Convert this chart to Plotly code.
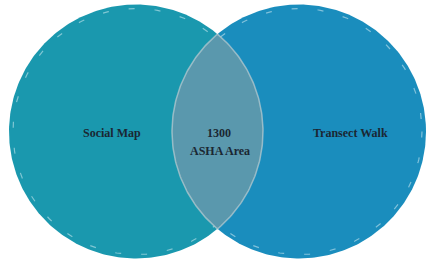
import numpy as np
import plotly.graph_objects as go

# Data
set_labels = ["Social Map", "Transect Walk"]
overlap_label = ["1300", "ASHA Area"]
set_colors = ["#1a98ae", "#1a8dbd"]
overlap_color = "#5a98ad"

# Layout constants (pixel space)
W, H = 426, 260
centers = [(136, 131.5), (299, 131.5)]
R = 127

fig = go.Figure()

t = np.linspace(0, 2 * np.pi, 361)
for (cx, cy), col in zip(centers, set_colors):
    fig.add_trace(go.Scatter(x=cx + R * np.cos(t), y=cy + R * np.sin(t), mode="lines",
                             fill="toself", fillcolor=col, line=dict(color=col, width=0),
                             hoverinfo="skip", showlegend=False))
for (cx, cy) in centers:
    r2 = R - 4
    fig.add_trace(go.Scatter(x=cx + r2 * np.cos(t), y=cy + r2 * np.sin(t), mode="lines",
                             line=dict(color="rgba(230,245,250,0.5)", width=1.2, dash="6px,20px"),
                             hoverinfo="skip", showlegend=False))

# Lens (intersection)
(c1x, c1y), (c2x, c2y) = centers
d = c2x - c1x
h = np.sqrt(R**2 - (d / 2) ** 2)
a = np.arctan2(h, d / 2)
ang1 = np.linspace(-a, a, 100)
ang2 = np.linspace(np.pi - a, np.pi + a, 100)
lx = np.concatenate([c1x + R * np.cos(ang1), c2x + R * np.cos(ang2)])
ly = np.concatenate([c1y + R * np.sin(ang1), c2y + R * np.sin(ang2)])
fig.add_trace(go.Scatter(x=lx, y=ly, mode="lines", fill="toself", fillcolor=overlap_color,
                         line=dict(color="rgba(190,205,210,0.7)", width=1.5),
                         hoverinfo="skip", showlegend=False))

font = dict(family="Liberation Serif", size=12, color="#1b2733")
fig.add_annotation(x=112, y=133, text="<b>%s</b>" % set_labels[0], showarrow=False, font=font)
fig.add_annotation(x=350, y=133, text="<b>%s</b>" % set_labels[1], showarrow=False, font=font)
fig.add_annotation(x=219, y=133, text="<b>%s</b>" % overlap_label[0], showarrow=False, font=font)
fig.add_annotation(x=220, y=151, text="<b>%s</b>" % overlap_label[1], showarrow=False, font=font)

fig.update_layout(width=W, height=H, margin=dict(l=0, r=0, t=0, b=0),
                  paper_bgcolor="white", plot_bgcolor="white",
                  xaxis=dict(range=[0, W], visible=False, fixedrange=True),
                  yaxis=dict(range=[H, 0], visible=False, fixedrange=True))
fig.write_html("out.html", config={"displayModeBar": False},
               post_script="document.body.style.margin='0';document.body.style.overflow='hidden';")
